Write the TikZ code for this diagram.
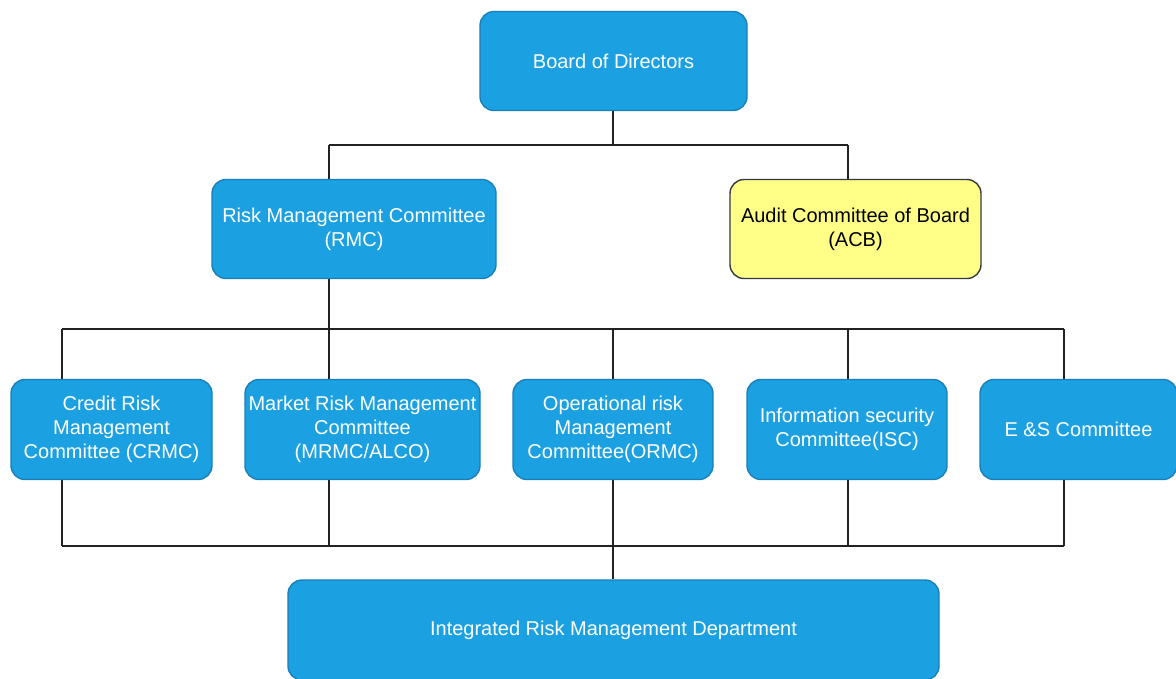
\documentclass[tikz,border=0pt]{standalone}
\usepackage{fontspec}
\setmainfont{Liberation Sans}
\usetikzlibrary{backgrounds,calc}
\definecolor{boxblue}{HTML}{1BA1E2}
\definecolor{boxbluedraw}{HTML}{1A7FB8}
\definecolor{boxyellow}{HTML}{FFFF88}
\definecolor{boxyellowdraw}{HTML}{36393D}
\definecolor{linecol}{HTML}{222222}
\tikzset{
  bluebox/.style={draw=boxbluedraw, fill=boxblue, line width=1.4pt, rounded corners=14pt,
    text=white, align=center, inner sep=0pt, font=\fontsize{20}{24}\selectfont},
  yellowbox/.style={bluebox, draw=boxyellowdraw, fill=boxyellow, text=black},
  conn/.style={draw=linecol, line width=1.5pt},
}
\begin{document}
\begin{tikzpicture}[x=1pt,y=-1pt]
\useasboundingbox (0,0) rectangle (1176,678);
\begin{scope}
\clip (0,0) rectangle (1176,678);
\node[bluebox, minimum width=267pt, minimum height=99pt] (board) at (613.5,61) {Board of Directors};
\node[bluebox, minimum width=284pt, minimum height=99pt] (rmc) at (354,229) {Risk Management Committee\\(RMC)};
\node[yellowbox, minimum width=251pt, minimum height=99pt] (acb) at (855.5,229) {Audit Committee of Board\\(ACB)};
\node[bluebox, minimum width=201pt, minimum height=100pt] (crmc) at (111.5,429.5) {Credit Risk\\Management\\Committee (CRMC)};
\node[bluebox, minimum width=235pt, minimum height=100pt] (mrmc) at (362.5,429.5) {Market Risk Management\\Committee\\(MRMC/ALCO)};
\node[bluebox, minimum width=200pt, minimum height=100pt] (ormc) at (613,429.5) {Operational risk\\Management\\Committee(ORMC)};
\node[bluebox, minimum width=200pt, minimum height=100pt] (isc) at (847,429.5) {Information security\\Committee(ISC)};
\node[bluebox, minimum width=197pt, minimum height=100pt] (es) at (1078.5,429.5) {E \&S Committee};
\node[bluebox, minimum width=651pt, minimum height=100pt] (irmd) at (613.5,630) {Integrated Risk Management Department};

\coordinate (t0) at (613,145);
\coordinate (tl) at (329,145);
\coordinate (tr) at (848,145);
\coordinate (m0) at (329,329);
\coordinate (m1) at (62,329);
\coordinate (m2) at (329,329);
\coordinate (m3) at (613,329);
\coordinate (m4) at (848,329);
\coordinate (m5) at (1064,329);
\coordinate (b1) at (62,546);
\coordinate (b2) at (329,546);
\coordinate (b3) at (613,546);
\coordinate (b4) at (848,546);
\coordinate (b5) at (1064,546);

\begin{scope}[on background layer]
\draw[conn] (board.south -| t0) -- (t0);
\draw[conn] (tl) -- (tr);
\draw[conn] (tl) -- (rmc.north -| tl);
\draw[conn] (tr) -- (acb.north -| tr);
\draw[conn] (rmc.south -| m0) -- (m0);
\draw[conn] (m1) -- (m5);
\draw[conn] (m1) -- (crmc.north -| m1);
\draw[conn] (m2) -- (mrmc.north -| m2);
\draw[conn] (m3) -- (ormc.north -| m3);
\draw[conn] (m4) -- (isc.north -| m4);
\draw[conn] (m5) -- (es.north -| m5);
\draw[conn] (crmc.south -| b1) -- (b1);
\draw[conn] (mrmc.south -| b2) -- (b2);
\draw[conn] (ormc.south -| b3) -- (b3);
\draw[conn] (isc.south -| b4) -- (b4);
\draw[conn] (es.south -| b5) -- (b5);
\draw[conn] (b1) -- (b5);
\draw[conn] (b3) -- (irmd.north -| b3);
\end{scope}
\end{scope}
\end{tikzpicture}
\end{document}
